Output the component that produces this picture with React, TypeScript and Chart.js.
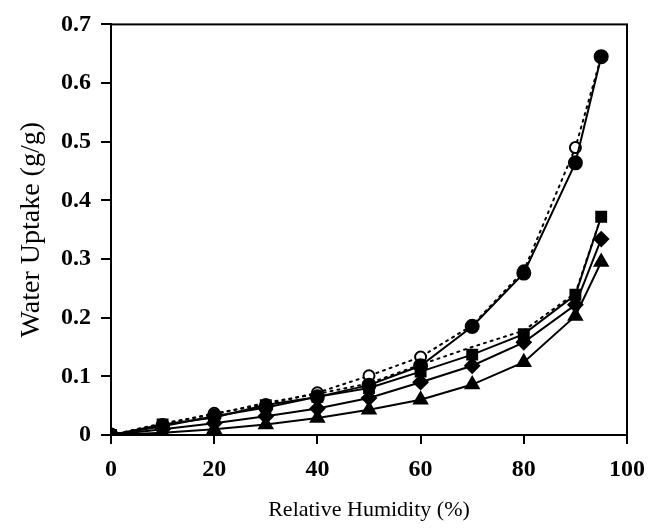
import React, { useEffect, useRef } from "react";
import { Chart, registerables } from "chart.js";

Chart.register(...registerables);

const humidity = [0, 10, 20, 30, 40, 50, 60, 70, 80, 90, 95];
const circleSorption = [0, 0.015, 0.032, 0.047, 0.065, 0.085, 0.118, 0.185, 0.276, 0.464, 0.645];
const circleDesorption = [0, 0.018, 0.037, 0.052, 0.072, 0.101, 0.133, 0.187, 0.28, 0.49, 0.645];
const squareSorption = [0, 0.018, 0.03, 0.051, 0.065, 0.08, 0.108, 0.137, 0.172, 0.239, 0.372];
const squareDesorption = [0, 0.02, 0.035, 0.055, 0.07, 0.088, 0.12, 0.15, 0.178, 0.242, 0.372];
const diamondSorption = [0, 0.01, 0.02, 0.032, 0.045, 0.063, 0.09, 0.118, 0.158, 0.222, 0.334];
const triangleSorption = [0, 0.004, 0.01, 0.018, 0.029, 0.043, 0.06, 0.086, 0.124, 0.203, 0.295];

const xTicks = [0, 20, 40, 60, 80, 100];
const yTicks = [0, 0.1, 0.2, 0.3, 0.4, 0.5, 0.6, 0.7];

const FONT = "'Liberation Serif', 'Times New Roman', serif";

const toPoints = (ys: number[]) => humidity.map((x, i) => ({ x, y: ys[i] }));

const boxPlugin = {
  id: "boxPlugin",
  afterDatasetsDraw(chart: any) {
    const { ctx, chartArea } = chart;
    ctx.save();
    ctx.strokeStyle = "#000";
    ctx.lineWidth = 2;
    ctx.strokeRect(chartArea.left, chartArea.top, chartArea.right - chartArea.left, chartArea.bottom - chartArea.top);
    ctx.restore();
  },
};

export default function App() {
  const ref = useRef<HTMLCanvasElement>(null);
  useEffect(() => {
    if (!ref.current) return;
    const base = {
      borderColor: "#000",
      pointBorderColor: "#000",
      pointBackgroundColor: "#000",
      borderWidth: 2,
      tension: 0,
      fill: false,
      showLine: true,
    };
    const chart = new Chart(ref.current, {
      type: "scatter",
      data: {
        datasets: [
          { ...base, label: "circle sorption", data: toPoints(circleSorption), pointStyle: "circle", pointRadius: 6.5, order: 1 },
          { ...base, label: "square sorption", data: toPoints(squareSorption), pointStyle: "rect", pointRadius: 7, order: 2 },
          { ...base, label: "diamond sorption", data: toPoints(diamondSorption), pointStyle: "rectRot", pointRadius: 7, order: 3 },
          { ...base, label: "triangle sorption", data: toPoints(triangleSorption), pointStyle: "triangle", pointRadius: 7.5, order: 4 },
          { ...base, label: "circle desorption", data: toPoints(circleDesorption), pointStyle: "circle", pointRadius: 5.5, pointBackgroundColor: "#fff", pointBorderWidth: 2, borderDash: [2, 5], borderCapStyle: "round", order: 5 },
          { ...base, label: "square desorption", data: toPoints(squareDesorption), pointRadius: 0, borderDash: [2, 5], borderCapStyle: "round", order: 6 },
        ] as any,
      },
      options: {
        animation: false,
        responsive: false,
        maintainAspectRatio: false,
        layout: { padding: { top: 22, right: 31, left: 0, bottom: 0 } },
        plugins: { legend: { display: false }, tooltip: { enabled: false } },
        scales: {
          x: {
            type: "linear",
            min: 0,
            max: 100,
            afterFit: (s: any) => { s.height = 94; },
            afterBuildTicks: (s: any) => { s.ticks = xTicks.map((v) => ({ value: v })); },
            grid: { display: true, drawOnChartArea: false, drawTicks: true, tickLength: 9, color: "#000", lineWidth: 2 },
            border: { display: true, color: "#000", width: 2 },
            ticks: { color: "#000", font: { family: FONT, size: 24, weight: "bold" }, padding: 11, maxRotation: 0 },
            title: { display: true, text: "Relative Humidity (%)", color: "#000", font: { family: FONT, size: 22 }, padding: { top: 4, bottom: 6 } },
          },
          y: {
            type: "linear",
            min: 0,
            max: 0.7,
            afterFit: (s: any) => { s.width = 111; },
            afterBuildTicks: (s: any) => { s.ticks = yTicks.map((v) => ({ value: v })); },
            grid: { display: true, drawOnChartArea: false, drawTicks: true, tickLength: 10, color: "#000", lineWidth: 2 },
            border: { display: true, color: "#000", width: 2 },
            ticks: {
              color: "#000",
              font: { family: FONT, size: 24, weight: "bold" },
              padding: 10,
              callback: (v: any) => (Number(v) === 0 ? "0" : Number(v).toFixed(1)),
            },
            title: { display: true, text: "Water Uptake (g/g)", color: "#000", font: { family: FONT, size: 28 }, padding: { top: 15, bottom: 4 } },
          },
        },
      },
      plugins: [boxPlugin],
    });
    return () => chart.destroy();
  }, []);
  return (
    <div style={{ position: "fixed", left: 0, top: 0, width: 658, height: 529, background: "#fff" }}>
      <canvas ref={ref} width={658} height={529} style={{ width: 658, height: 529, display: "block" }} />
    </div>
  );
}
